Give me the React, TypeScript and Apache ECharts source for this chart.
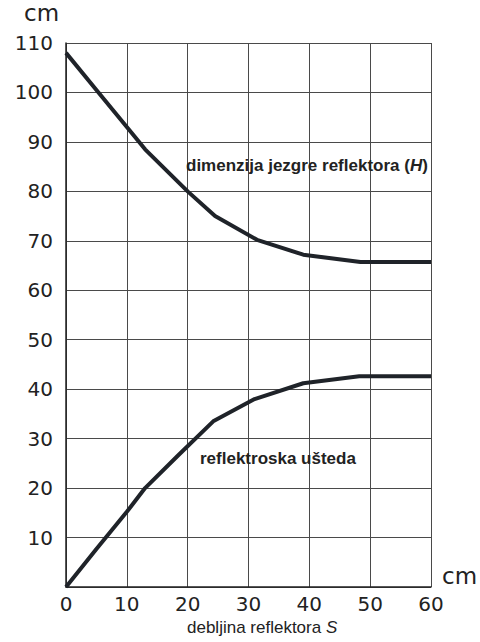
import React, { useEffect, useRef } from "react";
import * as echarts from "echarts";

const xTicks = [0, 10, 20, 30, 40, 50, 60];
const coreX = [0, 5, 10, 13, 20, 24.5, 31.4, 39, 48.4, 60];
const coreY = [108, 100.5, 93, 88.5, 80, 75, 70.2, 67.2, 65.7, 65.7];
const savingX = [0, 5, 10, 13, 18.5, 24.2, 31, 39, 48.2, 60];
const savingY = [0, 7.7, 15.2, 20, 26.7, 33.5, 38, 41.2, 42.6, 42.6];
const coreLabel = "dimenzija jezgre reflektora (";
const savingLabel = "reflektroska ušteda";
const xName = "debljina reflektora ";
const unit = "cm";

const FONT = "Liberation Sans, Arial, sans-serif";
const TICKFONT = "DejaVu Sans, sans-serif";

export default function App() {
  const ref = useRef<HTMLDivElement>(null);
  useEffect(() => {
    if (!ref.current) return;
    const chart = echarts.init(ref.current, undefined, { renderer: "svg" });
    const lineStyle = { color: "#1f2329", width: 4 };
    chart.setOption({
      animation: false,
      backgroundColor: "#ffffff",
      grid: { left: 66, right: 49, top: 43, bottom: 55 },
      xAxis: {
        type: "value",
        min: 0,
        max: 60,
        interval: 10,
        axisLine: { show: true, lineStyle: { color: "#222", width: 1.5 } },
        axisTick: { show: false },
        splitLine: { show: true, lineStyle: { color: "#4a4a4a", width: 1 } },
        axisLabel: {
          fontSize: 20,
          color: "#222",
          margin: 7,
          fontFamily: TICKFONT,
          formatter: (v: number) => (xTicks.includes(v) ? String(v) : ""),
        },
      },
      yAxis: {
        type: "value",
        min: 0,
        max: 110,
        interval: 10,
        axisLine: { show: true, lineStyle: { color: "#222", width: 1.5 } },
        axisTick: { show: false },
        splitLine: { show: true, lineStyle: { color: "#4a4a4a", width: 1 } },
        axisLabel: {
          fontSize: 20,
          color: "#222",
          margin: 13,
          fontFamily: TICKFONT,
          formatter: (v: number) => (v === 0 ? "" : String(v)),
        },
      },
      series: [
        {
          type: "line",
          data: coreX.map((x, i) => [x, coreY[i]]),
          showSymbol: false,
          lineStyle,
          z: 5,
        },
        {
          type: "line",
          data: savingX.map((x, i) => [x, savingY[i]]),
          showSymbol: false,
          lineStyle,
          z: 5,
        },
      ],
      graphic: [
        {
          type: "text",
          left: 24,
          top: 1,
          style: { text: unit, fontSize: 23, fill: "#222", fontFamily: TICKFONT },
        },
        {
          type: "text",
          left: 442,
          top: 564,
          style: { text: unit, fontSize: 23, fill: "#222", fontFamily: TICKFONT },
        },
        {
          type: "text",
          left: 186,
          top: 157,
          z: 10,
          style: {
            text: "{a|" + coreLabel + "}{b|H}{a|)}",
            rich: {
              a: { fontSize: 17, fontWeight: "bold", fill: "#222", fontFamily: FONT },
              b: { fontSize: 17, fontWeight: "bold", fontStyle: "italic", fill: "#222", fontFamily: FONT },
            },
          },
        },
        {
          type: "text",
          left: 200,
          top: 450,
          z: 10,
          style: {
            text: savingLabel,
            fontSize: 17,
            fontWeight: "bold",
            fill: "#222",
            fontFamily: FONT,
          },
        },
        {
          type: "text",
          left: 187,
          top: 619,
          style: {
            text: "{a|" + xName + "}{b|S}",
            rich: {
              a: { fontSize: 17, fill: "#222", fontFamily: FONT },
              b: { fontSize: 17, fontStyle: "italic", fill: "#222", fontFamily: FONT },
            },
          },
        },
      ],
    });
    return () => chart.dispose();
  }, []);
  return <div ref={ref} style={{ width: 480, height: 642, position: "absolute", left: 0, top: 0 }} />;
}
